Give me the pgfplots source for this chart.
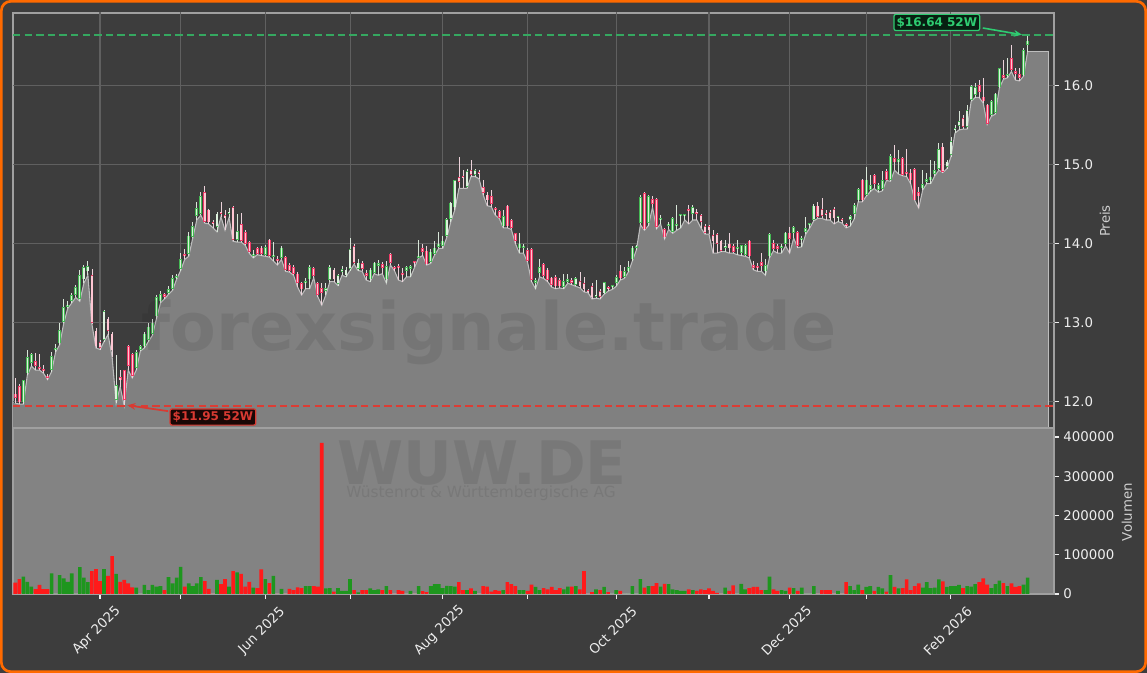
\documentclass[border=0pt]{standalone}
\usepackage{pgfplots}
\usepackage{pgfplotstable}
\pgfplotsset{compat=1.18}
\usepackage{fontspec}
\setmainfont{DejaVu Sans}
\usetikzlibrary{arrows.meta}

\definecolor{bg}{HTML}{3D3D3D}
\definecolor{frame}{HTML}{FF6A00}
\definecolor{areag}{HTML}{808080}
\definecolor{areal}{HTML}{BDBDBD}
\definecolor{gridc}{HTML}{606060}
\definecolor{spine}{HTML}{A0A0A0}
\definecolor{tickc}{HTML}{EDEDED}
\definecolor{labelc}{HTML}{CFCFCF}
\definecolor{upedge}{HTML}{45B854}
\definecolor{upfill}{HTML}{DCF2DC}
\definecolor{dnedge}{HTML}{EE3A66}
\definecolor{dnfill}{HTML}{FFC6D3}
\definecolor{upwick}{HTML}{D8E6D8}
\definecolor{dnwick}{HTML}{ECD2DA}
\definecolor{volg}{HTML}{1E961E}
\definecolor{volr}{HTML}{FF1A1A}
\definecolor{hi}{HTML}{2ECC71}
\definecolor{hiline}{HTML}{35A860}
\definecolor{lo}{HTML}{D93A32}
\definecolor{loline}{HTML}{DC3C34}
\definecolor{volbg}{HTML}{838383}

\pgfplotstableread{
x o h l c v
0 12.10 12.30 11.98 12.05 28800
1 12.20 12.22 11.97 11.99 38000
2 11.99 12.27 11.97 12.27 44000
3 12.36 12.66 12.34 12.56 31000
4 12.49 12.62 12.45 12.60 18600
5 12.51 12.62 12.40 12.45 12700
6 12.42 12.60 12.40 12.41 23000
7 12.40 12.46 12.36 12.39 12700
8 12.33 12.35 12.28 12.30 12700
9 12.40 12.63 12.38 12.58 52500
10 12.65 12.73 12.63 12.68 0
11 12.74 13.00 12.72 12.91 48000
12 13.01 13.30 12.99 13.20 40000
13 13.20 13.27 13.18 13.23 31000
14 13.28 13.38 13.25 13.35 52500
15 13.35 13.48 13.32 13.45 0
16 13.30 13.67 13.27 13.60 68700
17 13.55 13.73 13.50 13.70 42000
18 13.65 13.78 13.60 13.72 30000
19 13.60 13.68 12.98 13.00 58500
20 12.90 12.93 12.68 12.70 63600
21 12.75 12.78 12.66 12.68 33000
22 12.78 13.16 12.76 13.15 63600
23 13.05 13.07 12.85 12.90 46000
24 12.86 12.88 12.57 12.65 96700
25 12.02 12.59 11.98 12.21 51000
26 12.31 12.40 12.19 12.27 31000
27 12.40 12.40 11.95 12.02 36000
28 12.70 12.72 12.40 12.45 27000
29 12.60 12.62 12.30 12.33 17000
30 12.43 12.66 12.40 12.63 16000
31 12.66 12.72 12.64 12.70 0
32 12.70 12.88 12.68 12.86 23000
33 12.78 13.00 12.76 12.95 10000
34 12.86 13.05 12.84 13.00 23000
35 13.08 13.35 13.05 13.32 19000
36 13.27 13.40 13.25 13.36 20000
37 13.36 13.38 13.30 13.33 10000
38 13.38 13.46 13.36 13.42 43000
39 13.43 13.60 13.41 13.56 27000
40 13.56 13.62 13.55 13.58 42000
41 13.68 13.88 13.66 13.80 69000
42 13.86 13.93 13.80 13.84 19000
43 13.87 14.15 13.84 14.10 27000
44 14.09 14.28 14.07 14.22 20000
45 14.35 14.53 14.30 14.45 27000
46 14.38 14.66 14.36 14.60 43000
47 14.65 14.73 14.26 14.28 33000
48 14.43 14.44 14.25 14.27 13000
49 14.26 14.30 14.20 14.25 0
50 14.21 14.40 14.15 14.38 36000
51 14.40 14.53 14.34 14.38 25000
52 14.36 14.43 14.17 14.32 38000
53 14.38 14.45 14.33 14.40 19000
54 14.46 14.48 14.03 14.05 58000
55 14.05 14.38 14.02 14.16 55000
56 14.25 14.39 14.02 14.04 51000
57 14.15 14.17 13.98 14.00 19000
58 14.02 14.03 13.88 13.90 31000
59 13.85 13.92 13.82 13.87 16000
60 13.94 13.96 13.86 13.87 15000
61 13.95 13.97 13.85 13.87 63000
62 13.86 13.98 13.84 13.96 38000
63 14.05 14.06 13.83 13.85 28000
64 13.83 14.02 13.78 13.86 46000
65 13.80 13.84 13.73 13.78 0
66 13.82 13.97 13.80 13.95 13000
67 13.83 13.85 13.65 13.67 0
68 13.73 13.76 13.64 13.66 13000
69 13.70 13.73 13.60 13.62 10000
70 13.62 13.64 13.45 13.50 17000
71 13.50 13.52 13.35 13.42 15000
72 13.50 13.56 13.43 13.52 20000
73 13.55 13.73 13.43 13.70 20000
74 13.69 13.70 13.57 13.59 20000
75 13.50 13.52 13.33 13.35 19000
76 13.44 13.50 13.22 13.38 385000
77 13.40 13.50 13.35 13.44 14000
78 13.54 13.73 13.52 13.70 15000
79 13.67 13.69 13.52 13.55 6000
80 13.49 13.62 13.47 13.60 15000
81 13.64 13.72 13.60 13.68 8000
82 13.60 13.70 13.58 13.67 8000
83 13.68 14.07 13.66 13.93 38000
84 13.97 13.99 13.74 13.76 10000
85 13.68 13.80 13.66 13.76 4000
86 13.75 13.78 13.65 13.68 10000
87 13.63 13.67 13.54 13.59 10000
88 13.55 13.69 13.52 13.67 14000
89 13.63 13.77 13.62 13.76 10000
90 13.72 13.79 13.60 13.75 12000
91 13.74 13.77 13.62 13.69 10000
92 13.55 13.78 13.50 13.72 20000
93 13.87 13.88 13.73 13.76 10000
94 13.70 13.72 13.66 13.68 0
95 13.72 13.74 13.54 13.69 10000
96 13.62 13.69 13.52 13.60 8000
97 13.66 13.72 13.58 13.70 0
98 13.68 13.73 13.58 13.72 8000
99 13.76 13.77 13.70 13.75 0
100 13.82 14.05 13.82 13.85 20000
101 13.94 14.00 13.85 13.90 7000
102 13.91 13.97 13.73 13.74 5000
103 13.77 13.93 13.75 13.90 20000
104 13.87 14.03 13.86 13.95 25000
105 13.96 14.15 13.94 14.00 25000
106 13.97 14.10 13.94 14.04 15000
107 14.10 14.33 14.08 14.31 21000
108 14.31 14.53 14.28 14.52 20000
109 14.46 14.81 14.43 14.80 19000
110 14.84 15.10 14.70 14.78 30000
111 14.85 14.93 14.70 14.83 10000
112 14.72 14.95 14.70 14.92 10000
113 14.93 15.06 14.85 14.87 14000
114 14.87 14.95 14.85 14.93 8000
115 14.90 14.93 14.82 14.88 0
116 14.72 14.80 14.62 14.64 20000
117 14.62 14.65 14.48 14.55 19000
118 14.60 14.68 14.47 14.50 6000
119 14.45 14.47 14.36 14.42 10000
120 14.41 14.42 14.32 14.33 8000
121 14.22 14.42 14.20 14.35 10000
122 14.48 14.49 14.20 14.22 30000
123 14.30 14.31 14.18 14.20 25000
124 14.13 14.14 14.00 14.04 20000
125 13.94 14.13 13.88 14.00 10000
126 13.95 14.00 13.88 13.97 10000
127 13.92 13.94 13.77 13.78 8000
128 13.93 13.94 13.52 13.54 24000
129 13.50 13.57 13.43 13.54 18000
130 13.63 13.81 13.58 13.70 10000
131 13.74 13.75 13.56 13.59 15000
132 13.67 13.69 13.52 13.54 12000
133 13.57 13.58 13.45 13.48 18000
134 13.58 13.60 13.43 13.46 10000
135 13.54 13.56 13.44 13.46 15000
136 13.45 13.62 13.43 13.53 12000
137 13.52 13.62 13.50 13.55 19000
138 13.54 13.56 13.48 13.50 19000
139 13.48 13.58 13.46 13.56 20000
140 13.53 13.64 13.44 13.46 12000
141 13.50 13.58 13.39 13.42 58500
142 13.40 13.42 13.38 13.39 0
143 13.46 13.50 13.30 13.32 5000
144 13.33 13.54 13.31 13.34 12000
145 13.40 13.43 13.30 13.33 10000
146 13.37 13.52 13.36 13.51 18000
147 13.44 13.46 13.40 13.43 5000
148 13.45 13.48 13.42 13.46 0
149 13.50 13.60 13.46 13.58 10000
150 13.66 13.73 13.54 13.56 8000
151 13.58 13.70 13.56 13.65 0
152 13.65 13.78 13.64 13.70 0
153 13.80 13.97 13.78 13.95 20000
154 13.95 13.98 13.92 13.96 0
155 14.26 14.62 14.24 14.59 38000
156 14.64 14.65 14.17 14.18 16000
157 14.26 14.62 14.23 14.60 20000
158 14.56 14.60 14.46 14.50 20000
159 14.56 14.58 14.19 14.21 28000
160 14.30 14.36 14.25 14.32 19000
161 14.18 14.20 14.06 14.08 26000
162 14.23 14.28 14.18 14.25 25000
163 14.15 14.34 14.13 14.32 12000
164 14.22 14.49 14.17 14.25 10000
165 14.35 14.38 14.20 14.37 8000
166 14.35 14.38 14.30 14.35 8000
167 14.43 14.49 14.25 14.41 12000
168 14.38 14.49 14.30 14.46 10000
169 14.40 14.44 14.30 14.38 8000
170 14.36 14.38 14.20 14.28 12000
171 14.22 14.25 14.12 14.14 10000
172 14.22 14.24 14.12 14.17 14000
173 14.11 14.17 13.88 14.03 8000
174 14.12 14.14 13.88 14.00 3000
175 14.04 14.05 13.90 13.91 0
176 13.95 14.05 13.90 13.96 16000
177 14.00 14.14 13.88 13.94 8000
178 13.97 14.00 13.88 13.90 22000
179 13.93 14.05 13.86 13.95 0
180 13.88 13.98 13.85 13.98 26000
181 13.86 13.99 13.84 13.98 12000
182 14.04 14.05 13.82 13.84 15000
183 13.73 13.78 13.67 13.69 18000
184 13.72 13.75 13.65 13.69 18000
185 13.77 13.88 13.65 13.72 10000
186 13.65 13.81 13.60 13.73 10000
187 13.84 14.13 13.82 14.12 44000
188 14.01 14.05 13.91 13.93 12000
189 13.97 14.00 13.88 13.93 8000
190 13.95 14.00 13.88 13.97 10000
191 14.00 14.15 13.97 14.14 8000
192 14.14 14.21 13.88 14.06 16000
193 14.14 14.23 14.07 14.21 15000
194 14.15 14.16 13.95 13.97 8000
195 14.05 14.10 13.96 14.06 16000
196 14.15 14.34 14.12 14.20 0
197 14.24 14.26 14.20 14.25 0
198 14.30 14.50 14.29 14.48 20000
199 14.48 14.53 14.32 14.34 0
200 14.44 14.58 14.32 14.35 10000
201 14.37 14.42 14.30 14.36 10000
202 14.40 14.42 14.30 14.32 10000
203 14.44 14.47 14.25 14.32 0
204 14.32 14.33 14.28 14.32 8000
205 14.30 14.33 14.26 14.29 0
206 14.24 14.26 14.20 14.22 30000
207 14.30 14.36 14.22 14.35 20000
208 14.38 14.51 14.31 14.49 10000
209 14.55 14.70 14.53 14.69 24000
210 14.81 14.82 14.53 14.55 10000
211 14.62 14.97 14.60 14.81 18000
212 14.68 14.87 14.66 14.74 20000
213 14.87 14.88 14.70 14.76 8000
214 14.68 14.77 14.65 14.74 18000
215 14.69 14.92 14.67 14.80 14000
216 14.92 14.94 14.80 14.81 6000
217 14.81 15.14 14.79 15.11 48000
218 15.08 15.25 14.93 15.03 18000
219 15.03 15.19 14.88 15.07 14000
220 15.08 15.10 14.86 14.87 15000
221 14.90 15.20 14.85 14.88 37000
222 14.90 14.95 14.76 14.80 10000
223 14.94 14.96 14.55 14.55 20000
224 14.65 14.72 14.45 14.60 27000
225 14.70 14.93 14.68 14.75 16000
226 14.78 14.90 14.76 14.82 30000
227 14.80 15.06 14.76 14.85 15000
228 14.88 15.05 14.86 14.93 16000
229 14.95 15.28 14.93 15.20 37000
230 15.23 15.27 14.90 14.91 32000
231 14.97 15.06 14.95 15.04 18000
232 15.12 15.35 15.10 15.30 20000
233 15.44 15.50 15.40 15.46 20000
234 15.49 15.68 15.44 15.55 23000
235 15.59 15.63 15.45 15.48 15000
236 15.48 15.75 15.45 15.69 20000
237 15.82 16.01 15.80 15.99 19000
238 15.88 16.04 15.85 15.98 25000
239 16.01 16.07 15.85 15.92 30000
240 15.86 16.10 15.78 15.80 40000
241 15.76 15.77 15.51 15.52 24000
242 15.63 15.82 15.61 15.80 15000
243 15.66 15.91 15.64 15.90 25000
244 15.98 16.23 15.97 16.22 34000
245 16.13 16.33 16.08 16.10 28000
246 16.12 16.35 16.10 16.15 20000
247 16.35 16.52 16.18 16.20 27000
248 16.18 16.22 16.07 16.15 18000
249 16.15 16.22 16.06 16.10 20000
250 16.13 16.48 16.12 16.45 24000
251 16.52 16.64 16.43 16.57 42000
}\data

\pgfplotsset{
  every axis/.append style={
    scale only axis, anchor=south west,
    xmin=-0.57, xmax=257.55,
    axis line style={draw=spine, line width=0.8pt},
    tick align=outside, major tick length=3.5pt,
    tick style={draw=tickc, line width=0.8pt},
    tick label style={text=tickc, font=\fontsize{10}{12}\selectfont},
    xtick={21,41,62,83,106,127,149,172,192,211,232},
  },
  up/.style={restrict expr to domain={\thisrow{c}-\thisrow{o}}{0:10}},
  dn/.style={restrict expr to domain={\thisrow{c}-\thisrow{o}}{-10:-0.0001}},
  gl/.style={draw=gridc, line width=0.8pt, forget plot},
}

\begin{document}
\begin{tikzpicture}
\useasboundingbox (0,0) rectangle (860.25pt,504.75pt);
\fill[bg] (0,0) rectangle (860.25pt,504.75pt);

% ---------- price panel ----------
\begin{axis}[
  at={(9.75pt,183.75pt)}, width=780.75pt, height=311.25pt,
  ymin=11.667, ymax=16.92,
  clip mode=individual,
  axis background/.style={fill=bg},
  xticklabels={}, x tick style={draw=none},
  ytick={12,13,14,15,16}, yticklabels={12.0,13.0,14.0,15.0,16.0},
  ytick pos=right,
]
% grid lines (drawn first, below everything)
\addplot[gl] coordinates {(21,11.6) (21,17)};
\addplot[gl] coordinates {(41,11.6) (41,17)};
\addplot[gl] coordinates {(62,11.6) (62,17)};
\addplot[gl] coordinates {(83,11.6) (83,17)};
\addplot[gl] coordinates {(106,11.6) (106,17)};
\addplot[gl] coordinates {(127,11.6) (127,17)};
\addplot[gl] coordinates {(149,11.6) (149,17)};
\addplot[gl] coordinates {(172,11.6) (172,17)};
\addplot[gl] coordinates {(192,11.6) (192,17)};
\addplot[gl] coordinates {(211,11.6) (211,17)};
\addplot[gl] coordinates {(232,11.6) (232,17)};
\addplot[gl] coordinates {(-1,12) (258,12)};
\addplot[gl] coordinates {(-1,13) (258,13)};
\addplot[gl] coordinates {(-1,14) (258,14)};
\addplot[gl] coordinates {(-1,15) (258,15)};
\addplot[gl] coordinates {(-1,16) (258,16)};
% area under the low line (extended slightly at both ends)
\addplot[fill=areag, draw=none] coordinates {(-0.6,11.98) (0.2,11.98)} \closedcycle;
\addplot[fill=areag, draw=none] coordinates {(250.8,16.43) (256.1,16.43)} \closedcycle;
\addplot[fill=areag, draw=none] table[x=x, y=l] {\data} \closedcycle;
\addplot[draw=areal, line width=0.8pt] table[x=x, y=l] {\data};
\addplot[draw=areal, line width=0.8pt] coordinates {(251,16.43) (256.1,16.43) (256.1,11.0)};
% wicks
\addplot[draw=none, mark=none, up, error bars/.cd, y dir=plus, y explicit, error mark=none,
  error bar style={draw=upwick, line width=0.6pt}]
  table[x=x, y=l, y error plus expr={\thisrow{h}-\thisrow{l}}] {\data};
\addplot[draw=none, mark=none, dn, error bars/.cd, y dir=plus, y explicit, error mark=none,
  error bar style={draw=dnwick, line width=0.6pt}]
  table[x=x, y=l, y error plus expr={\thisrow{h}-\thisrow{l}}] {\data};
% bodies: edge
\addplot[draw=none, mark=none, up, error bars/.cd, y dir=plus, y explicit, error mark=none,
  error bar style={draw=upedge, line width=2.1pt}]
  table[x=x, y expr={min(\thisrow{o},\thisrow{c})}, y error plus expr={max(abs(\thisrow{c}-\thisrow{o}),0.025)}] {\data};
\addplot[draw=none, mark=none, dn, error bars/.cd, y dir=plus, y explicit, error mark=none,
  error bar style={draw=dnedge, line width=2.1pt}]
  table[x=x, y expr={min(\thisrow{o},\thisrow{c})}, y error plus expr={max(abs(\thisrow{c}-\thisrow{o}),0.025)}] {\data};
% bodies: fill
\addplot[draw=none, mark=none, up, error bars/.cd, y dir=plus, y explicit, error mark=none,
  error bar style={draw=upfill, line width=1.0pt}]
  table[x=x, y expr={min(\thisrow{o},\thisrow{c})+0.009}, y error plus expr={max(abs(\thisrow{c}-\thisrow{o})-0.018,0.006)}] {\data};
\addplot[draw=none, mark=none, dn, error bars/.cd, y dir=plus, y explicit, error mark=none,
  error bar style={draw=dnfill, line width=1.0pt}]
  table[x=x, y expr={min(\thisrow{o},\thisrow{c})+0.009}, y error plus expr={max(abs(\thisrow{c}-\thisrow{o})-0.018,0.006)}] {\data};
% 52-week lines
\addplot[draw=hiline, line width=1.4pt, dash pattern=on 5.5pt off 3.2pt] coordinates {(-0.57,16.64) (257.55,16.64)};
\addplot[draw=loline, line width=1.5pt, dash pattern=on 5.5pt off 3.2pt] coordinates {(-0.57,11.95) (257.55,11.95)};
% annotations
\draw[-{Stealth[length=6pt,width=5pt]}, hi, line width=1.2pt] (axis cs:239.9,16.73) -- (axis cs:249.6,16.645);
\node[fill=black!85!hi, draw=hi, line width=0.9pt, rounded corners=1.5pt, inner sep=2pt,
  text=hi, font=\bfseries\fontsize{9}{10}\selectfont] at (axis cs:228.5,16.80) {\$16.64 52W};
\draw[-{Stealth[length=6pt,width=5pt]}, lo, line width=1.3pt] (axis cs:37.9,11.88) -- (axis cs:27.8,11.955);
\node[fill=black!88!lo, draw=lo, line width=0.9pt, rounded corners=1.5pt, inner sep=2pt,
  text=lo, font=\bfseries\fontsize{9}{10}\selectfont] at (axis cs:49.0,11.806) {\$11.95 52W};
\end{axis}

% ---------- volume panel ----------
\begin{axis}[
  at={(9.75pt,59.25pt)}, width=780.75pt, height=124.5pt,
  ymin=0, ymax=423000,
  axis background/.style={fill=volbg},
  xticklabels={Apr 2025,,Jun 2025,,Aug 2025,,Oct 2025,,Dec 2025,,Feb 2026},
  xtick pos=bottom,
  xticklabel style={anchor=center, xshift=-2.5pt, yshift=-24pt, rotate=45},
  ytick={0,100000,200000,300000,400000},
  yticklabels={0,100000,200000,300000,400000},
  scaled y ticks=false,
  ytick pos=right,
]
\addplot[ybar, bar shift=0pt, bar width=0.9, fill=volg, draw=none, up] table[x=x, y=v] {\data};
\addplot[ybar, bar shift=0pt, bar width=0.9, fill=volr, draw=none, dn] table[x=x, y=v] {\data};
\end{axis}

% ---------- watermarks and labels ----------
\node[anchor=base, text=black, opacity=0.08, font=\bfseries\fontsize{50}{50}\selectfont] at (366.75pt,241.5pt) {forexsignale.trade};
\node[anchor=base, text=black, opacity=0.08, font=\bfseries\fontsize{45}{45}\selectfont] at (361.5pt,141pt) {WUW.DE};
\node[anchor=base, text=black, opacity=0.08, font=\fontsize{11.5}{12}\selectfont] at (360.75pt,131.25pt) {Wüstenrot \& Württembergische AG};
\node[rotate=90, text=labelc, font=\fontsize{10}{12}\selectfont] at (828.75pt,339pt) {Preis};
\node[rotate=90, text=labelc, font=\fontsize{10}{12}\selectfont] at (845.25pt,120.75pt) {Volumen};

\draw[frame, line width=2pt, rounded corners=7pt] (1pt,1pt) rectangle (859.25pt,503.75pt);
\end{tikzpicture}
\end{document}
